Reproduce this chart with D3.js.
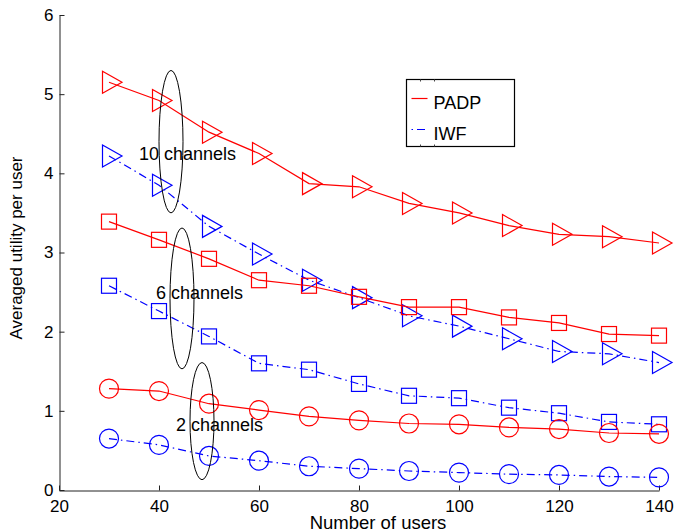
<!DOCTYPE html>
<html lang="en">
<head>
<meta charset="UTF-8">
<title>Averaged utility per user</title>
<script src="https://d3js.org/d3.v7.min.js"></script>
<style>
    * { margin: 0; padding: 0; }
    body { background: white; }
    svg text { font-family: "Liberation Sans", Arial, Helvetica, sans-serif; fill: black; }
</style>
</head>
<body>
<svg id="chart" width="677" height="530"></svg>
<script>
// number of users
const users = [30, 40, 50, 60, 70, 80, 90, 100, 110, 120, 130, 140];

// PADP (red, solid) and IWF (blue, dash-dot) for 10, 6, 2 channels
const padp10 = [5.15, 4.92, 4.52, 4.25, 3.87, 3.83, 3.62, 3.50, 3.34, 3.23, 3.20, 3.12];
const iwf10  = [4.22, 3.85, 3.33, 2.98, 2.65, 2.43, 2.20, 2.07, 1.91, 1.75, 1.72, 1.61];
const padp6  = [3.39, 3.16, 2.92, 2.65, 2.58, 2.44, 2.31, 2.31, 2.18, 2.11, 1.97, 1.95];
const iwf6   = [2.58, 2.26, 1.94, 1.60, 1.52, 1.34, 1.19, 1.16, 1.04, 0.97, 0.86, 0.83];
const padp2  = [1.28, 1.25, 1.09, 1.01, 0.93, 0.88, 0.84, 0.83, 0.79, 0.77, 0.72, 0.71];
const iwf2   = [0.65, 0.57, 0.43, 0.37, 0.30, 0.27, 0.24, 0.22, 0.20, 0.19, 0.17, 0.16];

const xTicks = [20, 40, 60, 80, 100, 120, 140];
const yTicks = [0, 1, 2, 3, 4, 5, 6];

const legendNames = ["PADP", "IWF"];

// ellipse notes (data coords): label, centre x, centre y, half height
const noteLabels = ["10 channels", "6 channels", "2 channels"];
const noteX = [42.4, 44.6, 48.6];
const noteY = [4.40, 2.42, 0.87];
const noteRy = [0.90, 0.89, 0.74];

const svg = d3.select("#chart");

const x = d3.scaleLinear().domain([20, 140]).range([59, 659]);
const y = d3.scaleLinear().domain([0, 6]).range([490, 15]);

// axes, ticks pointing inward
const xAxis = svg.append("g")
    .attr("transform", "translate(0,490.5)")
    .call(d3.axisBottom(x).tickValues(xTicks).tickFormat(d3.format("d"))
        .tickSizeInner(-5).tickSizeOuter(0).tickPadding(9));
const yAxis = svg.append("g")
    .attr("transform", "translate(59.5,0)")
    .call(d3.axisLeft(y).tickValues(yTicks).tickFormat(d3.format("d"))
        .tickSizeInner(-5).tickSizeOuter(0).tickPadding(6));
[xAxis, yAxis].forEach(a => {
    a.select(".domain").attr("stroke", "#222");
    a.selectAll(".tick line").attr("stroke", "#222");
    a.selectAll(".tick text").style("font-size", "17px");
});

svg.append("text")
    .attr("x", 378).attr("y", 529)
    .attr("text-anchor", "middle")
    .style("font-size", "18.5px")
    .text("Number of users");

svg.append("text")
    .attr("transform", "translate(22,248) rotate(-90)")
    .attr("text-anchor", "middle")
    .style("font-size", "17px")
    .text("Averaged utility per user");

const series = [
    { vals: padp10, color: "#ff0000", dash: null, shape: "tri" },
    { vals: iwf10,  color: "#0000ff", dash: "8,4,1.5,4", shape: "tri" },
    { vals: padp6,  color: "#ff0000", dash: null, shape: "sq" },
    { vals: iwf6,   color: "#0000ff", dash: "8,4,1.5,4", shape: "sq" },
    { vals: padp2,  color: "#ff0000", dash: null, shape: "circ" },
    { vals: iwf2,   color: "#0000ff", dash: "8,4,1.5,4", shape: "circ" }
];

const line = d3.line().x(d => x(d[0])).y(d => y(d[1]));

series.forEach(s => {
    const pts = users.map((u, i) => [u, s.vals[i]]);
    svg.append("path")
        .datum(pts)
        .attr("d", line)
        .attr("fill", "none")
        .attr("stroke", s.color)
        .attr("stroke-width", 1.2)
        .attr("stroke-dasharray", s.dash);

    const g = svg.append("g")
        .attr("fill", "none")
        .attr("stroke", s.color)
        .attr("stroke-width", 1.2);
    pts.forEach(p => {
        const cx = x(p[0]), cy = y(p[1]);
        if (s.shape === "tri") {
            g.append("path").attr("d",
                `M${cx - 6.5},${cy - 11}L${cx + 13},${cy}L${cx - 6.5},${cy + 11}Z`);
        } else if (s.shape === "sq") {
            g.append("rect").attr("x", cx - 7.5).attr("y", cy - 7.5)
                .attr("width", 15).attr("height", 15);
        } else {
            g.append("circle").attr("cx", cx).attr("cy", cy).attr("r", 9.5);
        }
    });
});

// channel ellipses
noteLabels.forEach((lab, i) => {
    const cx = x(noteX[i]), cy = y(noteY[i]);
    const ry = y(0) - y(noteRy[i]);
    svg.append("ellipse")
        .attr("cx", cx).attr("cy", cy)
        .attr("rx", 12).attr("ry", ry)
        .attr("fill", "none").attr("stroke", "black").attr("stroke-width", 1);
});
const noteTextX = [139, 156, 176];
const noteTextY = [160, 299, 431];
noteLabels.forEach((lab, i) => {
    svg.append("text")
        .attr("x", noteTextX[i]).attr("y", noteTextY[i])
        .style("font-size", "18px")
        .text(lab);
});

// legend
const lg = svg.append("g").attr("transform", "translate(406.5,79.5)");
lg.append("rect").attr("width", 108).attr("height", 67)
    .attr("fill", "white").attr("stroke", "black").attr("stroke-width", 1.2);
[14, 28].forEach(t => {
    lg.append("line").attr("x1", t).attr("x2", t).attr("y1", 0).attr("y2", 2).attr("stroke", "#444");
    lg.append("line").attr("x1", t).attr("x2", t).attr("y1", 65).attr("y2", 67).attr("stroke", "#444");
});
legendNames.forEach((name, i) => {
    const ly = 19 + i * 31;
    lg.append("line")
        .attr("x1", 5).attr("x2", 21).attr("y1", ly).attr("y2", ly)
        .attr("stroke", i === 0 ? "#ff0000" : "#0000ff")
        .attr("stroke-width", 1.2)
        .attr("stroke-dasharray", i === 0 ? null : "1.5,4,8,4");
    lg.append("text")
        .attr("x", 27).attr("y", ly + 10)
        .style("font-size", "18px")
        .text(name);
});
</script>
</body>
</html>
